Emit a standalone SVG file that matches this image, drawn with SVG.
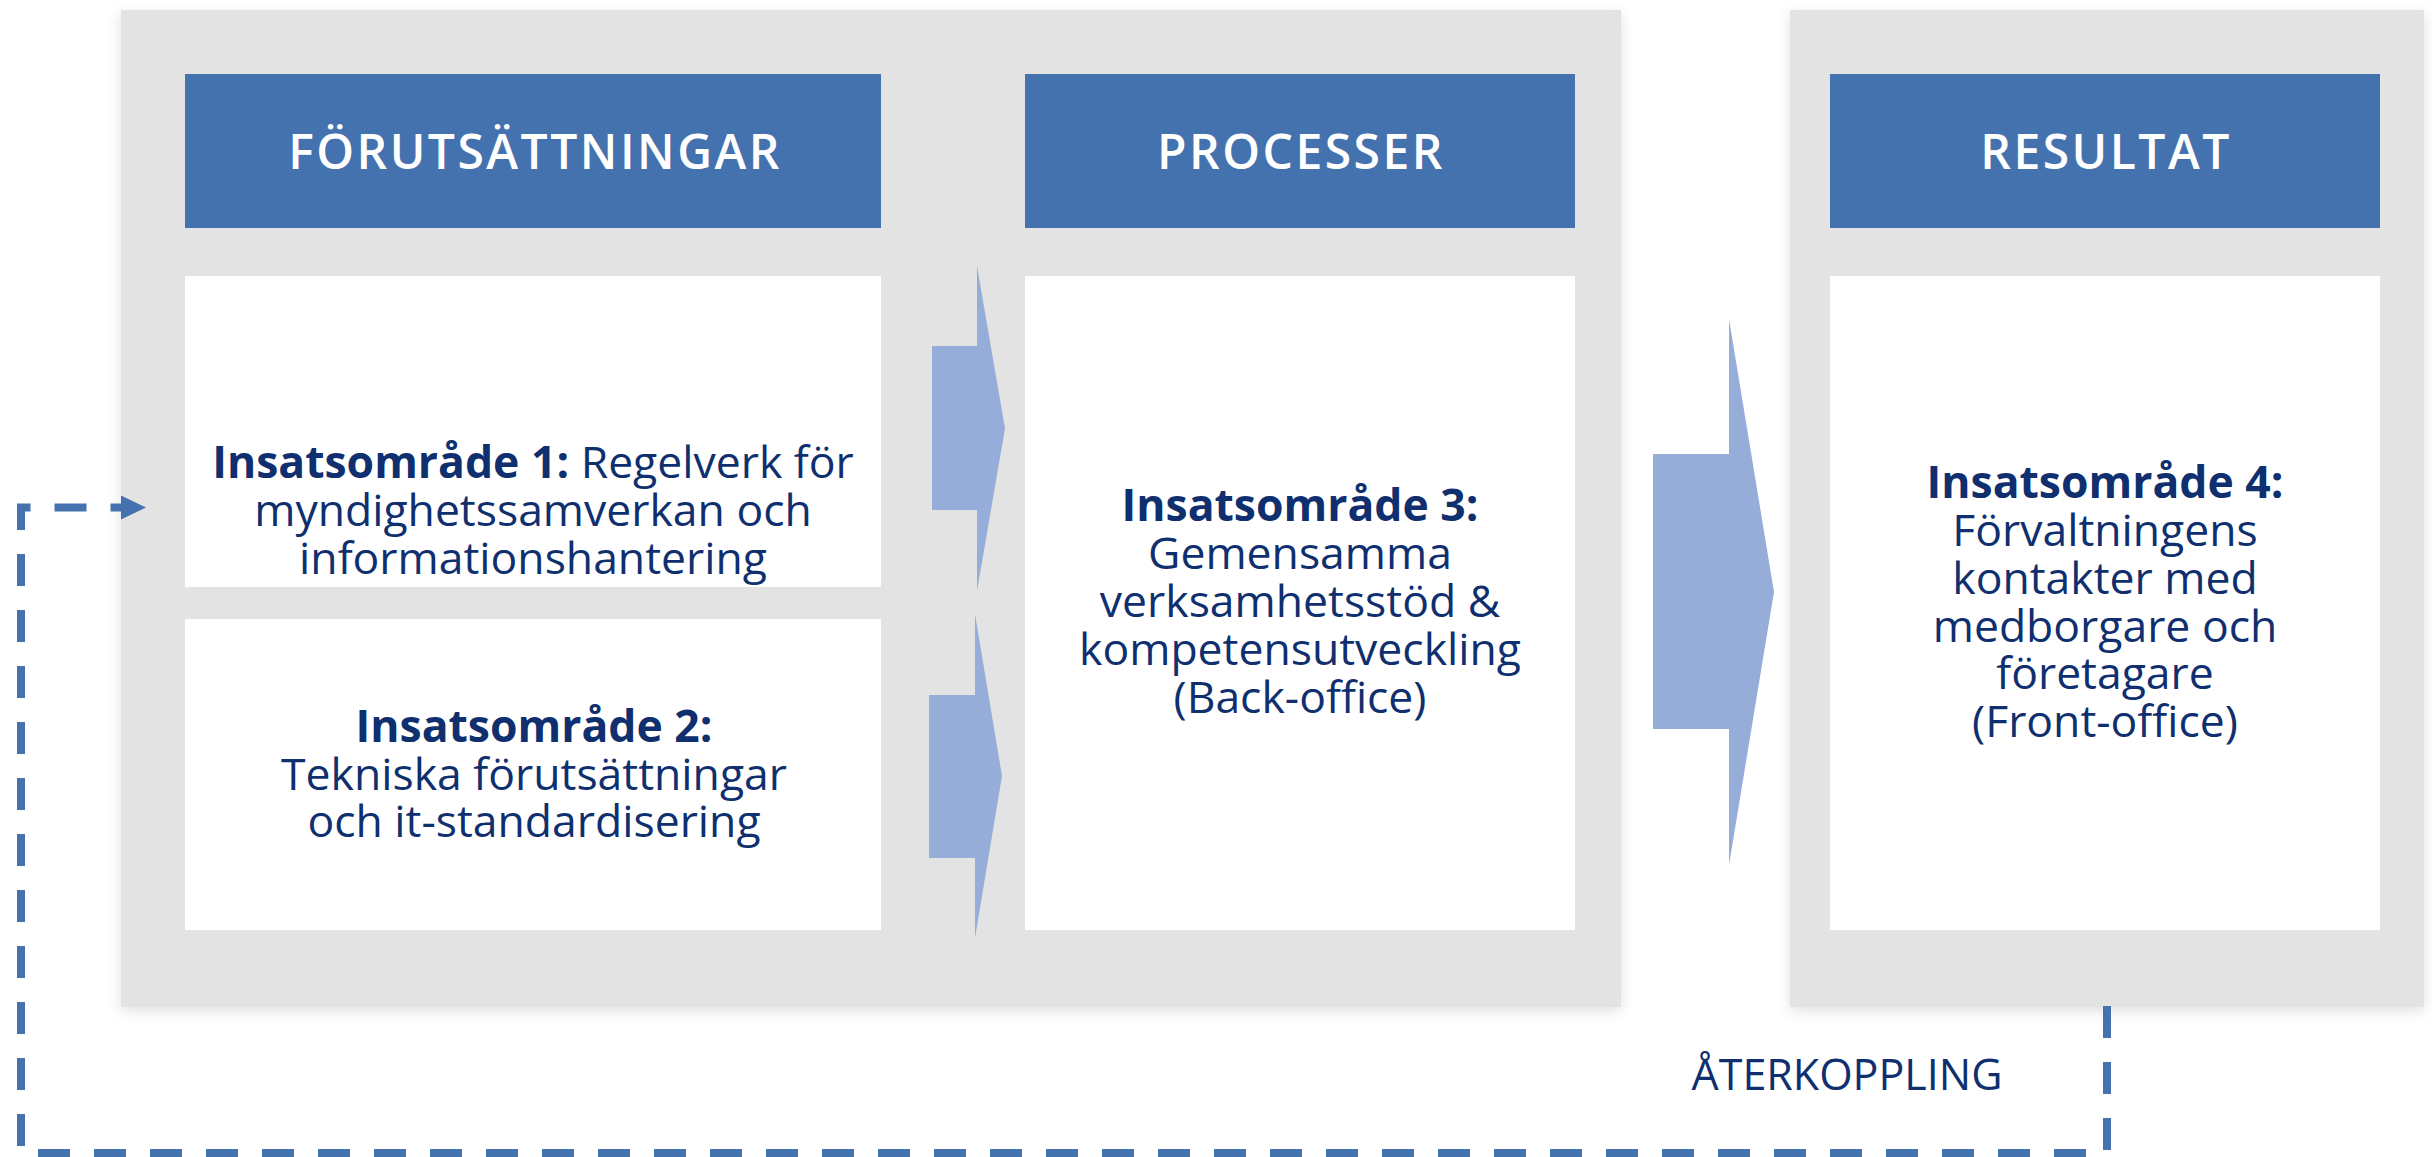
<svg xmlns="http://www.w3.org/2000/svg" width="2432" height="1157" viewBox="0 0 2432 1157">
<style>
.panel{fill:#E3E3E3;filter:url(#sh)}
.head{fill:#4472AF}
.box{fill:#FFFFFF}
.ht{font-family:"Open Sans","Noto Sans",sans-serif;font-weight:600;font-size:48px;letter-spacing:2.5px;fill:#FFFFFF;text-anchor:middle}
.bt{font-family:"Open Sans","Noto Sans",sans-serif;font-size:44.5px;fill:#0F2F6F;text-anchor:middle}
.lbl{font-family:"Open Sans","Noto Sans",sans-serif;font-size:43px;fill:#0F2F6F;text-anchor:middle}
.b{font-weight:700}
.blk{fill:#95ADD8}
.fb{fill:none;stroke:#4472AF;stroke-width:8;stroke-dasharray:32 24}
</style>
<defs>
<filter id="sh" x="-5%" y="-5%" width="110%" height="110%">
<feDropShadow dx="0" dy="4" stdDeviation="7" flood-color="#000000" flood-opacity="0.12"/>
</filter>
<marker id="ah" markerUnits="userSpaceOnUse" markerWidth="26" markerHeight="24" refX="0" refY="12" orient="auto" viewBox="0 0 26 24">
<path d="M0,0 L25,12 L0,24 Z" fill="#4472AF"/>
</marker>
</defs>
<rect width="2432" height="1157" fill="#FFFFFF"/>
<g id="panel-left"><rect class="panel" x="121" y="10" width="1500" height="997"/></g>
<g id="panel-right"><rect class="panel" x="1790" y="10" width="634" height="997"/></g>

<g id="head-forutsattningar">
<rect class="head" x="185" y="74" width="696" height="154"/>
<text class="ht" x="535" y="169">FÖRUTSÄTTNINGAR</text>
</g>
<g id="head-processer">
<rect class="head" x="1025" y="74" width="550" height="154"/>
<text class="ht" x="1301" y="169">PROCESSER</text>
</g>
<g id="head-resultat">
<rect class="head" x="1830" y="74" width="550" height="154"/>
<text class="ht" x="2106" y="169">RESULTAT</text>
</g>

<g id="ia1">
<rect class="box" x="185" y="276" width="696" height="311"/>
<text class="bt"><tspan x="533" y="478"><tspan class="b">Insatsområde 1:</tspan> Regelverk för</tspan><tspan x="533" y="526">myndighetssamverkan och</tspan><tspan x="533" y="574">informationshantering</tspan></text>
</g>
<g id="ia2">
<rect class="box" x="185" y="619" width="696" height="311"/>
<text class="bt"><tspan class="b" x="534" y="742">Insatsområde 2:</tspan><tspan x="534" y="790">Tekniska förutsättningar</tspan><tspan x="534" y="837">och it-standardisering</tspan></text>
</g>
<g id="ia3">
<rect class="box" x="1025" y="276" width="550" height="654"/>
<text class="bt"><tspan class="b" x="1300" y="521">Insatsområde 3:</tspan><tspan x="1300" y="569">Gemensamma</tspan><tspan x="1300" y="617">verksamhetsstöd &amp;</tspan><tspan x="1300" y="665">kompetensutveckling</tspan><tspan x="1300" y="713">(Back-office)</tspan></text>
</g>
<g id="ia4">
<rect class="box" x="1830" y="276" width="550" height="654"/>
<text class="bt"><tspan class="b" x="2105" y="498">Insatsområde 4:</tspan><tspan x="2105" y="546">Förvaltningens</tspan><tspan x="2105" y="594">kontakter med</tspan><tspan x="2105" y="642">medborgare och</tspan><tspan x="2105" y="689">företagare</tspan><tspan x="2105" y="737">(Front-office)</tspan></text>
</g>

<g id="connectors">
<polygon class="blk" points="932,346 977,346 977,266 1005,428.5 977,591 977,510 932,510"/>
<polygon class="blk" points="929,695 975,695 975,614 1002,776 975,938 975,858 929,858"/>
<polygon class="blk" points="1653,454 1729,454 1729,319 1774,592 1729,865 1729,729 1653,729"/>
<path class="fb" d="M2107,1006 L2107,1153 L21,1153 L21,507.5 L121,507.5" marker-end="url(#ah)"/>
<text class="lbl" x="1847" y="1090">ÅTERKOPPLING</text>
</g>
</svg>
